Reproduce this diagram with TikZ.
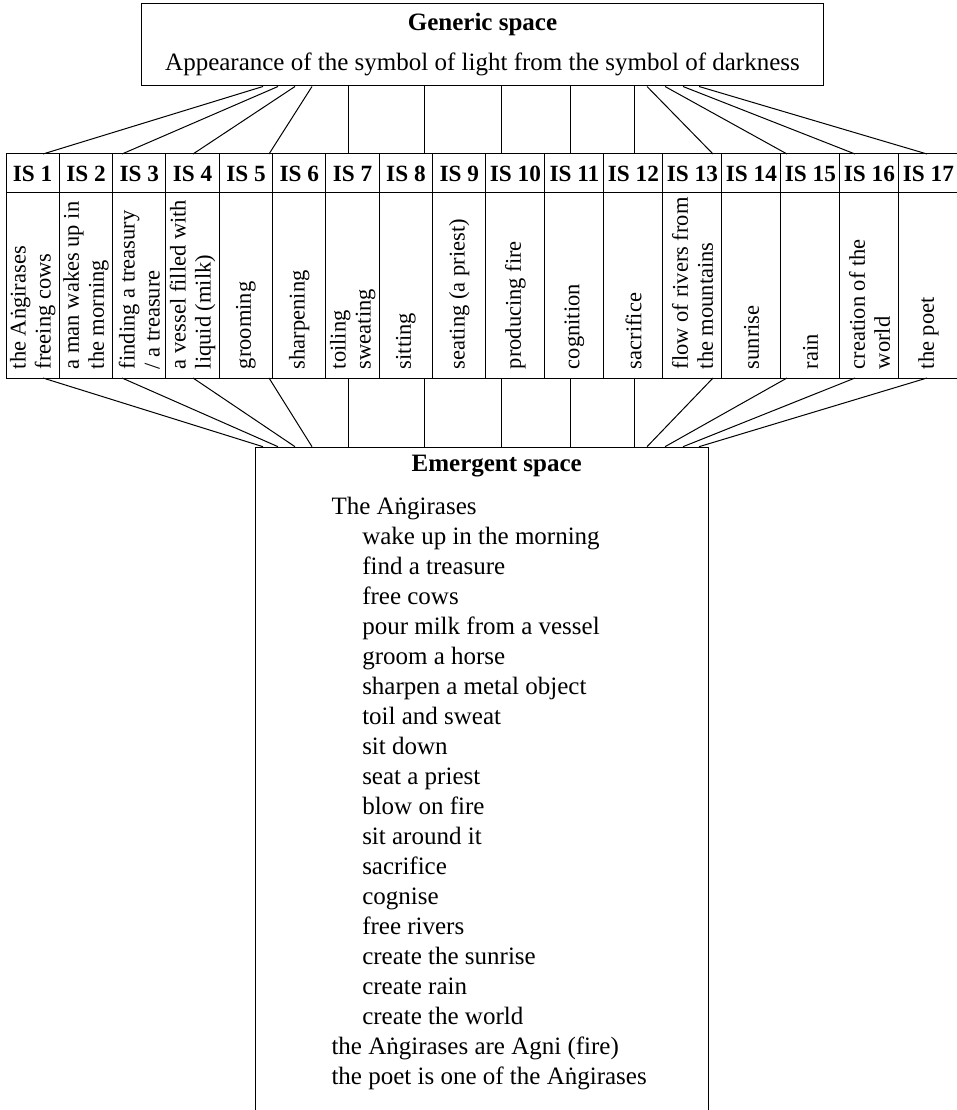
\documentclass[tikz,border=0pt]{standalone}
\usepackage{fontspec}
\setmainfont{Liberation Serif}
\usetikzlibrary{positioning}

\begin{document}
\begin{tikzpicture}[x=0.4pt, y=-0.4pt,
  spacebox/.style={draw, align=center, inner sep=0pt},
  hcell/.style={draw, inner sep=0pt, outer sep=0pt, minimum height=15.6pt,
                font=\fontsize{9.3}{11}\selectfont\bfseries},
  bcell/.style={draw, inner sep=0pt, outer sep=0pt, minimum height=74pt},
  btxt/.style={rotate=90, anchor=west, align=left,
               font=\fontsize{9}{10}\selectfont}
]
\useasboundingbox (0,0) rectangle (957,1110);

% generic space
\node[spacebox, minimum width=272.4pt, minimum height=32.8pt] (gen) at (482.5,45)
  {\textbf{Generic space}\\[4pt]
   Appearance of the symbol of light from the symbol of darkness};

% input spaces
\foreach \i/\txt in {1/{the Aṅgirases\\freeing cows},
                     2/{a man wakes up in\\the morning},
                     3/{finding a treasury\\/ a treasure},
                     4/{a vessel filled with\\liquid (milk)},
                     5/grooming, 6/sharpening,
                     7/{toiling\\sweating},
                     8/sitting, 9/seating (a priest),
                     10/producing fire, 11/cognition, 12/sacrifice,
                     13/{flow of rivers from\\the mountains},
                     14/sunrise, 15/rain,
                     16/{creation of the\\world},
                     17/the poet} {
  \ifnum\i<10 \def\cw{21.33pt}\else\def\cw{23.6pt}\fi
  \ifnum\i=1
    \node[hcell, minimum width=\cw, anchor=north west] (h\i) at (6,154) {IS \i};
  \else
    \pgfmathtruncatemacro\j{\i-1}
    \node[hcell, minimum width=\cw, right=0pt of h\j] (h\i) {IS \i};
  \fi
  \node[bcell, minimum width=\cw, below=0pt of h\i] (b\i) {};
  \node[btxt] (t\i) at (b\i.south) {\txt};
}

% emergent space
\node[spacebox, minimum width=181pt, minimum height=267.5pt, anchor=north] (emg)
  at (482,446.7) {};
\node[font=\bfseries] (etitle) at (496.7,466) {Emergent space};
\node[align=left, anchor=north west, inner sep=0pt] (elist) at (331,497)
  {The Aṅgirases\\
   \hspace*{12.3pt}wake up in the morning\\
   \hspace*{12.3pt}find a treasure\\
   \hspace*{12.3pt}free cows\\
   \hspace*{12.3pt}pour milk from a vessel\\
   \hspace*{12.3pt}groom a horse\\
   \hspace*{12.3pt}sharpen a metal object\\
   \hspace*{12.3pt}toil and sweat\\
   \hspace*{12.3pt}sit down\\
   \hspace*{12.3pt}seat a priest\\
   \hspace*{12.3pt}blow on fire\\
   \hspace*{12.3pt}sit around it\\
   \hspace*{12.3pt}sacrifice\\
   \hspace*{12.3pt}cognise\\
   \hspace*{12.3pt}free rivers\\
   \hspace*{12.3pt}create the sunrise\\
   \hspace*{12.3pt}create rain\\
   \hspace*{12.3pt}create the world\\
   the Aṅgirases are Agni (fire)\\
   the poet is one of the Aṅgirases};

% mappings
\foreach \gx/\c/\tx in {263/1/43, 278/3/122, 295/4/193, 312/5/269,
                        348/7/348, 424/8/424, 501/10/501, 570/11/570,
                        634/12/634, 647/13/713, 665/15/787, 683/16/855,
                        699/17/927} {
  \draw (gen.south -| \gx,0) -- (h\c.north -| \tx,0);
  \draw (b\c.south -| \tx,0) -- (emg.north -| \gx,0);
}
\end{tikzpicture}
\end{document}
